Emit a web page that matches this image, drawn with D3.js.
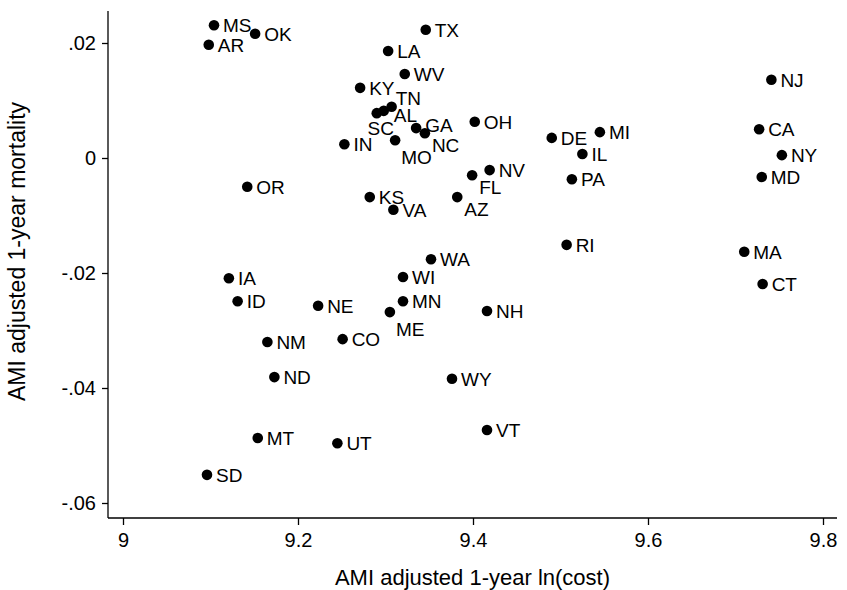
<!DOCTYPE html>
<html lang="en">

<head>
  <meta charset="UTF-8">
  <title>AMI cost vs mortality</title>
  <script src="https://cdn.jsdelivr.net/npm/d3@7"></script>
  <style>
    body { margin: 0; background: #fff; }
    text { font-family: "Liberation Sans", Arial, sans-serif; fill: #000; }
  </style>
</head>

<body>

</body>

</html>
<script>
  let w = 847;
  let h = 590;

  // data
  let states = ["MS", "AR", "OK", "TX", "LA", "WV", "KY", "TN", "AL", "SC", "GA", "NC", "MO", "IN", "OH", "DE",
    "MI", "IL", "NV", "FL", "PA", "NJ", "CA", "NY", "MD", "MA", "CT", "RI", "AZ", "KS", "VA", "OR",
    "WA", "WI", "IA", "ID", "NE", "MN", "ME", "NH", "NM", "CO", "ND", "WY", "MT", "UT", "VT", "SD"];
  let cost = [9.104, 9.098, 9.151, 9.346, 9.303, 9.322, 9.271, 9.307, 9.298, 9.290, 9.335, 9.345, 9.311, 9.253, 9.402, 9.490,
    9.545, 9.525, 9.419, 9.399, 9.513, 9.741, 9.727, 9.753, 9.730, 9.710, 9.731, 9.507, 9.382, 9.282, 9.309, 9.142,
    9.352, 9.320, 9.121, 9.131, 9.223, 9.320, 9.305, 9.416, 9.165, 9.251, 9.173, 9.376, 9.154, 9.245, 9.416, 9.096];
  let mortality = [0.0231, 0.0197, 0.0216, 0.0223, 0.0186, 0.0146, 0.0122, 0.0089, 0.0082, 0.0078, 0.0052, 0.0043, 0.0031, 0.0024, 0.0063, 0.0035,
    0.0045, 0.0007, -0.0021, -0.0030, -0.0037, 0.0136, 0.0050, 0.0005, -0.0033, -0.0163, -0.0219, -0.0151, -0.0068, -0.0068, -0.0090, -0.0050,
    -0.0176, -0.0207, -0.0209, -0.0249, -0.0257, -0.0249, -0.0268, -0.0266, -0.0320, -0.0315, -0.0381, -0.0384, -0.0487, -0.0496, -0.0473, -0.0551];
  let xTicks = [9, 9.2, 9.4, 9.6, 9.8];
  let yTicks = [0.02, 0, -0.02, -0.04, -0.06];

  // label clock positions (default 3 o'clock)
  let labelPos = { TN: "2", AL: "3low", GA: "3high", NC: "4", FL: "4", AZ: "4", MO: "5", ME: "5", SC: "6" };
  let posOffset = {
    "2": { dx: 4, dy: -9, anchor: "start" },
    "3": { dx: 9, dy: 0, anchor: "start" },
    "3low": { dx: 10, dy: 4, anchor: "start" },
    "3high": { dx: 9, dy: -3, anchor: "start" },
    "4": { dx: 7, dy: 12, anchor: "start" },
    "5": { dx: 6, dy: 17, anchor: "start" },
    "6": { dx: 4, dy: 15, anchor: "middle" }
  };
  function off(d) { return posOffset[labelPos[d.state] || "3"]; }

  let points = states.map(function (s, i) {
    return { state: s, x: cost[i], y: mortality[i] };
  });

  let svg = d3.select("body").append("svg").attr("width", w).attr("height", h)

  let x = d3.scaleLinear().domain([9, 9.8]).range([123, 823]);
  let y = d3.scaleLinear().domain([-0.06, 0.02]).range([503, 43]);

  let pLeft = 108, pRight = 837, pTop = 11, pBottom = 518;

  // x axis
  let xAxis = d3.axisBottom(x).tickValues(xTicks).tickSize(7).tickPadding(8)
    .tickFormat(d3.format("~g"));
  let gx = svg.append("g").attr("transform", "translate(0," + pBottom + ")").call(xAxis);
  gx.select(".domain").attr("d", "M" + pLeft + ",0H" + pRight);

  // y axis, Stata style ".02" / "-.02"
  let yAxis = d3.axisLeft(y).tickValues(yTicks).tickSize(6).tickPadding(6)
    .tickFormat(function (d) {
      return d === 0 ? "0" : d.toFixed(2).replace("0.", ".");
    });
  let gy = svg.append("g").attr("transform", "translate(" + pLeft + ",0)").call(yAxis);
  gy.select(".domain").attr("d", "M0," + pTop + "V" + pBottom);

  svg.selectAll(".domain, .tick line").attr("stroke", "#000").attr("stroke-width", 1.3);
  svg.selectAll(".tick text").attr("font-size", "20px").attr("font-family", "Liberation Sans, Arial, sans-serif");

  // axis titles
  svg.append("text").attr("x", (pLeft + pRight) / 2 + 0).attr("y", 585)
    .attr("text-anchor", "middle").attr("font-size", "22px")
    .text("AMI adjusted 1-year ln(cost)");
  svg.append("text").attr("transform", "translate(25," + ((pTop + pBottom) / 2 - 13) + ") rotate(-90)")
    .attr("text-anchor", "middle").attr("font-size", "23px")
    .text("AMI adjusted 1-year mortality");

  // dots
  svg.selectAll("circle").data(points).enter().append("circle")
    .attr("cx", function (d) { return x(d.x) })
    .attr("cy", function (d) { return y(d.y) })
    .attr("r", 5.3)
    .attr("fill", "#000");

  // labels
  svg.selectAll("text.lab").data(points).enter().append("text")
    .attr("class", "lab")
    .text(function (d) { return d.state })
    .attr("x", function (d) { return x(d.x) + off(d).dx })
    .attr("y", function (d) { return y(d.y) + off(d).dy })
    .attr("dy", "0.36em")
    .attr("text-anchor", function (d) { return off(d).anchor })
    .attr("font-size", "19px");
</script>
